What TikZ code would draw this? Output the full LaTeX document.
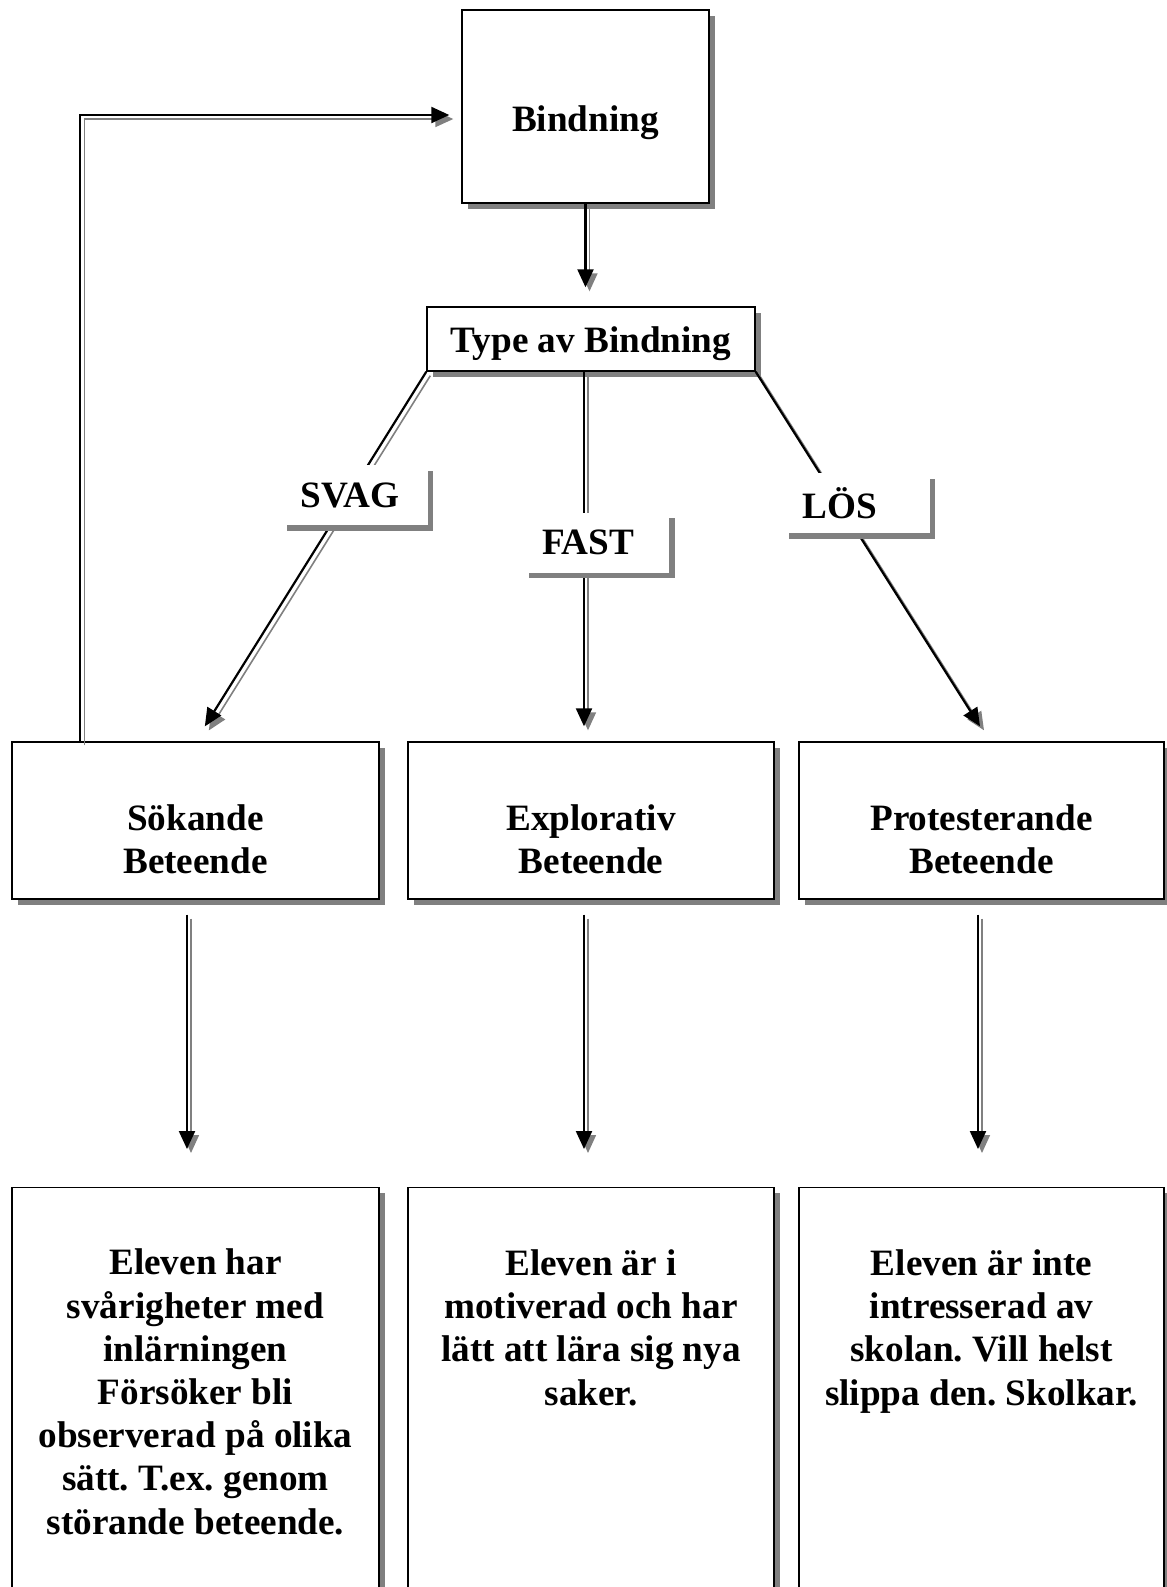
\documentclass[tikz,border=0pt]{standalone}
\usepackage{fontspec}
\setmainfont{Liberation Serif}
\usepackage{tikz}
\usetikzlibrary{arrows.meta,positioning,shadows}
\definecolor{ShadowGray}{HTML}{808080}
\frenchspacing

\begin{document}
\begin{tikzpicture}[
    x=0.5pt, y=-0.5pt,
    font=\bfseries\fontsize{18.6pt}{21.6pt}\selectfont,
    box/.style={draw, line width=0.7pt, fill=white, inner sep=0pt,
      drop shadow={shadow xshift=2.8pt, shadow yshift=-2.8pt, fill=ShadowGray, opacity=1}},
    txt/.style={align=center, inner sep=0pt},
    tag/.style={fill=white, text width=54pt, inner xsep=9.5pt, inner ysep=0pt,
      minimum height=30pt, align=left,
      drop shadow={shadow xshift=2.8pt, shadow yshift=-2.8pt, fill=ShadowGray, opacity=1}},
    link/.style={line width=1.1pt,
      preaction={draw=ShadowGray, line width=0.8pt, transform canvas={shift={(2pt,-2pt)}}}},
    arrow/.style={link, -{Triangle[length=9pt, width=8pt]}}
  ]
    \useasboundingbox (0,0) rectangle (1167,1587);

    % boxes
    \node[box, minimum width=123.5pt, minimum height=96.5pt] (bind) at (585.5,106.5) {};
    \node[box, minimum width=164pt, minimum height=32pt, text height=17pt, text depth=4pt]
      (type) at (591,339) {Type av Bindning};
    \node[box, minimum width=183.5pt, minimum height=78.5pt] (sok) at (195.5,820.5) {};
    \node[box, minimum width=183pt, minimum height=78.5pt] (expl) at (591,820.5) {};
    \node[box, minimum width=182.5pt, minimum height=78.5pt] (prot) at (981.5,820.5) {};
    \node[box, minimum width=183.5pt, minimum height=230pt, anchor=north] (sokB) at (195.5,1187) {};
    \node[box, minimum width=183pt, minimum height=230pt, anchor=north] (explB) at (591,1187) {};
    \node[box, minimum width=182.5pt, minimum height=230pt, anchor=north] (protB) at (981.5,1187) {};

    % texts (base = last line)
    \node[txt, anchor=base] (bindT) at ([yshift=-61pt]bind.north) {Bindning};
    \node[txt, anchor=base] (sokT) at ([yshift=-66pt]sok.north) {Sökande\\Beteende};
    \node[txt, anchor=base] (explT) at ([yshift=-66pt]expl.north) {Explorativ\\Beteende};
    \node[txt, anchor=base] (protT) at ([yshift=-66pt]prot.north) {Protesterande\\Beteende};
    \node[txt, anchor=base] (sokBT) at ([yshift=-173.5pt]sokB.north)
      {Eleven har\\svårigheter med\\inlärningen\\Försöker bli\\observerad på olika\\sätt. T.ex. genom\\störande beteende.};
    \node[txt, anchor=base] (explBT) at ([yshift=-109pt]explB.north)
      {Eleven är i\\motiverad och har\\lätt att lära sig nya\\saker.};
    \node[txt, anchor=base] (protBT) at ([yshift=-109pt]protB.north)
      {Eleven är inte\\intresserad av\\skolan. Vill helst\\slippa den. Skolkar.};

    % connectors
    \draw[arrow] ([xshift=34.5pt]sok.north west) |- ([xshift=-6pt,yshift=-4.25pt]bind.west);
    \draw[arrow, shorten >=9.5pt] (bind.south) -- (bind.south |- type.north);
    \draw[arrow, shorten >=8.8pt] (type.south west) -- (sok.north);
    \draw[arrow, shorten >=7.5pt] ([xshift=-3.5pt]type.south) -- ([xshift=-3.5pt]expl.north);
    \draw[arrow, shorten >=8.9pt] (type.south east) -- ([xshift=4pt]prot.north);
    \draw[arrow, shorten <=7.5pt, shorten >=19pt] ([xshift=-4.25pt]sok.south) -- ([xshift=-4.25pt]sokB.north);
    \draw[arrow, shorten <=7.5pt, shorten >=19pt] ([xshift=-3.5pt]expl.south) -- ([xshift=-3.5pt]explB.north);
    \draw[arrow, shorten <=7.5pt, shorten >=19pt] ([xshift=-1.75pt]prot.south) -- ([xshift=-1.75pt]protB.north);

    % labels on the links
    \node[tag] (svag) at (354.5,495) {SVAG};
    \node[tag] (fast) at (596,542.5) {FAST};
    \node[tag] (los) at (856.5,503) {LÖS};
  \end{tikzpicture}
\end{document}
